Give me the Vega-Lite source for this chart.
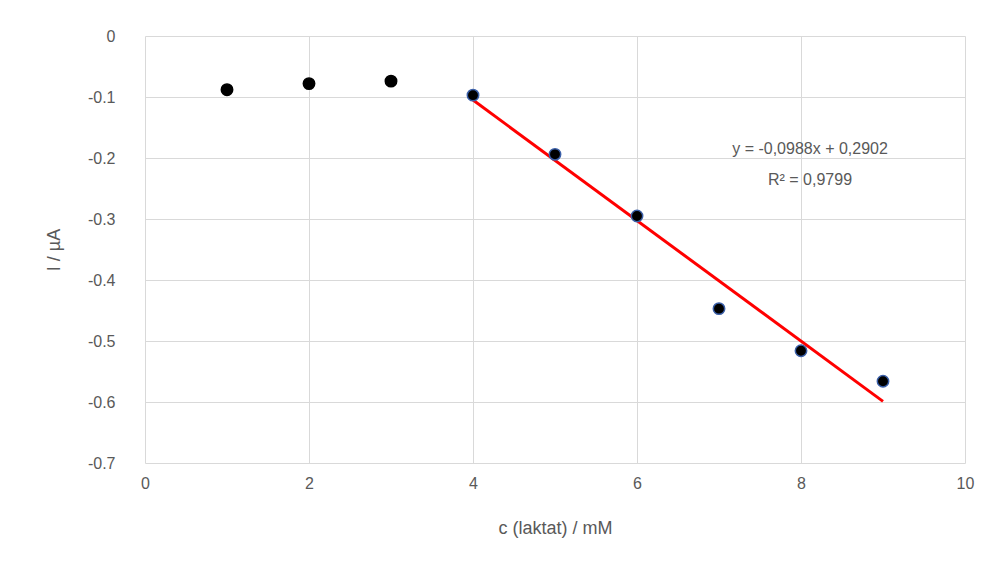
{
  "$schema": "https://vega.github.io/schema/vega-lite/v6.json",
  "width": 820,
  "height": 427,
  "autosize": "none",
  "padding": {"left": 145, "top": 36, "right": 30, "bottom": 116},
  "background": "white",
  "config": {
    "view": {"stroke": null},
    "font": "Liberation Sans",
    "axis": {"labelFont": "Liberation Sans", "titleFont": "Liberation Sans", "labelColor": "#595959", "titleColor": "#595959", "labelFontSize": 16, "titleFontSize": 18, "titleFontWeight": "normal", "gridColor": "#d9d9d9", "domain": false, "ticks": false, "labelFlush": false}
  },
  "datasets": {
    "pts": [
      {"c": 1, "i": -0.088, "fit": "no"},
      {"c": 2, "i": -0.078, "fit": "no"},
      {"c": 3, "i": -0.074, "fit": "no"},
      {"c": 4, "i": -0.097, "fit": "yes"},
      {"c": 5, "i": -0.194, "fit": "yes"},
      {"c": 6, "i": -0.295, "fit": "yes"},
      {"c": 7, "i": -0.447, "fit": "yes"},
      {"c": 8, "i": -0.516, "fit": "yes"},
      {"c": 9, "i": -0.566, "fit": "yes"}
    ],
    "trend": [{"c": 4, "i": -0.1050}, {"c": 9, "i": -0.599}],
    "label": [{"c": 8.11, "i": -0.185, "t": "y = -0,0988x + 0,2902"}, {"c": 8.11, "i": -0.236, "t": "R² = 0,9799"}]
  },
  "layer": [
    {
      "data": {"name": "trend"},
      "mark": {"type": "line", "color": "#ff0000", "strokeWidth": 3},
      "encoding": {
        "x": {"field": "c", "type": "quantitative", "scale": {"domain": [0, 10]}, "axis": {"values": [0, 2, 4, 6, 8, 10], "labelExpr": "datum.value + ''", "title": "c (laktat) / mM", "labelPadding": 12, "titlePadding": 28}},
        "y": {"field": "i", "type": "quantitative", "scale": {"domain": [-0.7, 0]}, "axis": {"values": [0, -0.1, -0.2, -0.3, -0.4, -0.5, -0.6, -0.7], "labelExpr": "datum.value + ''", "title": "I / µA", "labelPadding": 30, "titlePadding": 24}}
      }
    },
    {
      "data": {"name": "pts"},
      "mark": {"type": "point", "filled": true, "size": 130, "fill": "black", "strokeWidth": 1.5, "opacity": 1},
      "encoding": {
        "x": {"field": "c", "type": "quantitative"},
        "y": {"field": "i", "type": "quantitative"},
        "stroke": {"field": "fit", "type": "nominal", "scale": {"domain": ["no", "yes"], "range": ["black", "#3a5fa8"]}, "legend": null}
      }
    },
    {
      "data": {"name": "label"},
      "mark": {"type": "text", "fontSize": 16, "color": "#595959", "align": "center"},
      "encoding": {
        "x": {"field": "c", "type": "quantitative"},
        "y": {"field": "i", "type": "quantitative"},
        "text": {"field": "t"}
      }
    }
  ]
}
